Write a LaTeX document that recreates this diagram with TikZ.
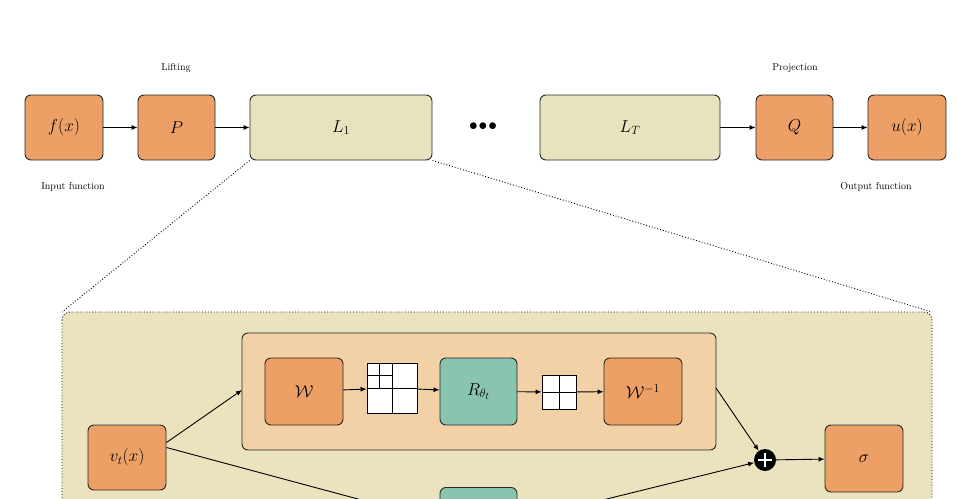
\documentclass[tikz,border=0pt]{standalone}
\usetikzlibrary{arrows.meta}
\begin{document}
\begin{tikzpicture}[x=1pt,y=-1pt,
  box/.style={draw=black!85,line width=0.9pt,rounded corners=6pt,inner sep=0pt},
  orb/.style={box,fill=orangeA},
  lb/.style={box,fill=khaki},
  tl/.style={box,fill=tealA},
  arr/.style={-{Latex[length=6pt,width=5pt]},line width=0.9pt},
  lab/.style={font=\normalsize}]
\definecolor{orangeA}{HTML}{EDA066}
\definecolor{khaki}{HTML}{E8E3BF}
\definecolor{bigbg}{HTML}{EBE3BE}
\definecolor{inner}{HTML}{F2D1A7}
\definecolor{tealA}{HTML}{88C4AE}
\useasboundingbox (0,0) rectangle (957,498);
\begin{scope}
\clip (0,0) rectangle (957,498);
% big box
\draw[dotted,line width=0.9pt,fill=bigbg,rounded corners=8pt] (62,312) rectangle (932,560);
\coordinate (bigtl) at (62,312);
\coordinate (bigtr) at (932,312);
\draw[box,fill=inner] (242,333) rectangle (716,450);
\node[orb,minimum width=78pt,minimum height=67pt] (W) at (304,391.5) {\LARGE$\mathcal{W}$};
\node[tl,minimum width=77pt,minimum height=67pt] (R) at (478.5,391.5) {\LARGE$R_{\theta_t}$};
\node[orb,minimum width=78pt,minimum height=67pt] (Wi) at (643,391.5) {\LARGE$\mathcal{W}^{-1}$};
% grid1
\node[draw,fill=white,line width=0.9pt,minimum size=50pt,inner sep=0pt] (g1) at (392,388) {};
\draw[line width=0.9pt] (392,363)--(392,413) (367,388)--(417,388) (379.5,363)--(379.5,388) (367,375.5)--(392,375.5);
\node[draw,fill=white,line width=0.9pt,minimum size=34pt,inner sep=0pt] (g2) at (559,392) {};
\draw[line width=0.9pt] (559,375)--(559,409) (542,392)--(576,392);
\draw[arr] (W) -- (g1);
\draw[arr] (g1) -- (R);
\draw[arr] (R) -- (g2);
\draw[arr] (g2) -- (Wi);
\node[orb,minimum width=78pt,minimum height=65pt] (v) at (127,457.5) {\LARGE$v_t(x)$};
\node[circle,fill=black,minimum size=22pt,inner sep=0pt] (plus) at (765,460) {};
\draw[white,line width=2.5pt] (758,460)--(772,460) (765,453)--(765,467);
\node[orb,minimum width=78pt,minimum height=67pt] (s) at (864,458.5) {\LARGE$\sigma$};
\node[tl,minimum width=77pt,minimum height=67pt,anchor=north] (B) at (478.5,487) {};
\coordinate (ib) at (242,390);
\coordinate (ie) at (716,388);
\draw[arr] (v.north east)++(0,18) -- (ib);
\draw[line width=0.9pt] ([yshift=10pt]v.east) -- (B.west);
\draw[arr] (B.east) -- (plus);
\draw[arr] (ie) -- (plus);
\draw[arr] (plus) -- (s);
\end{scope}
% top row
\node[orb,minimum width=78pt,minimum height=65pt] (f) at (64,127.5) {\LARGE$f(x)$};
\node[orb,minimum width=77pt,minimum height=65pt] (P) at (176.5,127.5) {\LARGE$P$};
\node[lb,minimum width=182pt,minimum height=65pt] (L1) at (341,127.5) {\LARGE$L_1$};
\node (dots) at (483,127) {\LARGE$\bullet\!\bullet\!\bullet$};
\node[lb,minimum width=180pt,minimum height=65pt] (LT) at (630,127.5) {\LARGE$L_T$};
\node[orb,minimum width=77pt,minimum height=65pt] (Q) at (794.5,127.5) {\LARGE$Q$};
\node[orb,minimum width=78pt,minimum height=65pt] (u) at (907,127.5) {\LARGE$u(x)$};
\draw[arr] (f) -- (P);
\draw[arr] (P) -- (L1);
\draw[arr] (LT) -- (Q);
\draw[arr] (Q) -- (u);
\node[lab] at (176,68) {Lifting};
\node[lab] at (795,68) {Projection};
\node[lab] at (73,187) {Input function};
\node[lab] at (876,187) {Output function};
\draw[dotted,line width=0.9pt] (L1.south west) -- (bigtl);
\draw[dotted,line width=0.9pt] (L1.south east) -- (bigtr);
\end{tikzpicture}
\end{document}
